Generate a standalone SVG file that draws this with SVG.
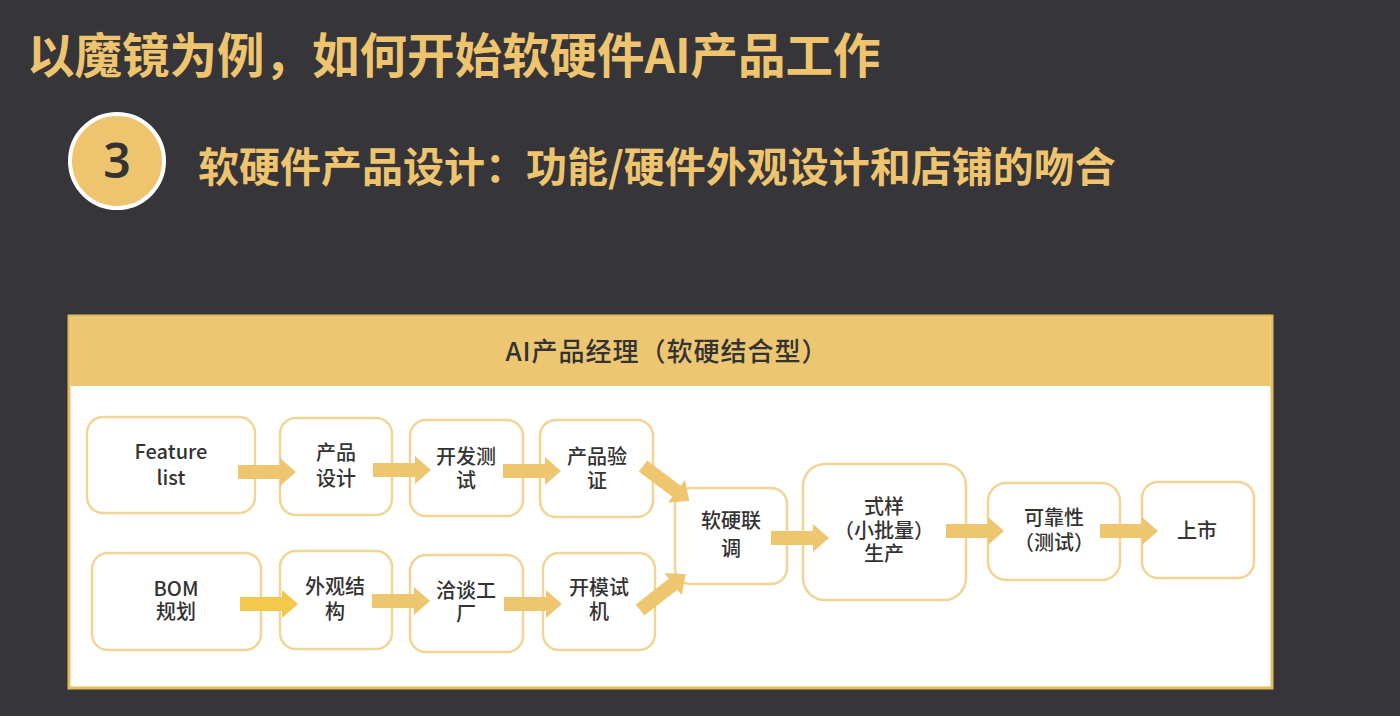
<svg xmlns="http://www.w3.org/2000/svg" xmlns:xlink="http://www.w3.org/1999/xlink" width="1400" height="716" viewBox="0 0 1400 716">
<style>
.gold{fill:#EEC46E;font-family:"Noto Sans CJK SC","Noto Sans",sans-serif;font-weight:bold}
.box{fill:#FFFFFF;stroke:#F1D596;stroke-width:2.5}
.lbl{fill:#333333;font-family:"Noto Sans CJK SC","Noto Sans",sans-serif;font-size:20px;font-weight:500;text-anchor:middle}
.arr{fill:#EEC670}
</style>
<defs>
<path id="arrow" d="M0,-7 H42 V-14 L58,0 L42,14 V7 H0 Z"/>
</defs>
<rect x="0" y="0" width="1400" height="716" fill="#35353A"/>
<g id="title">
<text class="gold" x="27" y="73" font-size="47.5">以魔镜为例，如何开始软硬件AI产品工作</text>
</g>
<g id="step">
<circle cx="117" cy="161" r="47" fill="#EEC46E" stroke="#FFFFFF" stroke-width="4"/>
<text x="117" y="178" font-family="'Noto Sans','Noto Sans CJK SC',sans-serif" font-size="48" font-weight="600" fill="#333333" text-anchor="middle">3</text>
<text class="gold" x="198" y="182" font-size="41">软硬件产品设计：功能/硬件外观设计和店铺的吻合</text>
</g>
<g id="panel">
<rect x="69" y="316" width="1203" height="372" fill="#FFFFFF" stroke="#E3BD59" stroke-width="3"/>
<rect x="70.5" y="317.5" width="1200" height="68.5" fill="#EDC672"/>
<text x="667" y="361" font-family="'Noto Sans CJK SC',sans-serif" font-size="26" font-weight="500" letter-spacing="1" fill="#333333" text-anchor="middle">AI产品经理（软硬结合型）</text>
</g>
<g id="node-feature">
<rect class="box" x="87" y="417" width="168" height="96" rx="16"/>
<text class="lbl" x="171" y="459">Feature<tspan x="171" dy="26">list</tspan></text>
</g>
<g id="node-design">
<rect class="box" x="280" y="418" width="112" height="97" rx="16"/>
<text class="lbl" x="336" y="460">产品<tspan x="336" dy="26">设计</tspan></text>
</g>
<g id="node-devtest">
<rect class="box" x="410" y="420" width="113" height="96" rx="16"/>
<text class="lbl" x="466" y="464">开发测<tspan x="466" dy="24">试</tspan></text>
</g>
<g id="node-verify">
<rect class="box" x="540" y="420" width="113" height="97" rx="16"/>
<text class="lbl" x="597" y="464">产品验<tspan x="597" dy="24">证</tspan></text>
</g>
<g id="node-bom">
<rect class="box" x="92" y="553" width="169" height="97" rx="16"/>
<text class="lbl" x="176" y="596">BOM<tspan x="176" dy="23">规划</tspan></text>
</g>
<g id="node-appearance">
<rect class="box" x="280" y="551" width="112" height="98" rx="16"/>
<text class="lbl" x="335" y="594">外观结<tspan x="335" dy="25">构</tspan></text>
</g>
<g id="node-factory">
<rect class="box" x="410" y="555" width="113" height="97" rx="16"/>
<text class="lbl" x="466" y="598">洽谈工<tspan x="466" dy="23">厂</tspan></text>
</g>
<g id="node-mold">
<rect class="box" x="543" y="553" width="112" height="97" rx="16"/>
<text class="lbl" x="599" y="595">开模试<tspan x="599" dy="24">机</tspan></text>
</g>
<g id="node-integration">
<rect class="box" x="675" y="488" width="112" height="96" rx="16"/>
<text class="lbl" x="731" y="528">软硬联<tspan x="731" dy="28">调</tspan></text>
</g>
<g id="node-pilot">
<rect class="box" x="803" y="464" width="163" height="136" rx="22"/>
<text class="lbl" x="884" y="514">式样<tspan x="884" dy="24">（小批量）</tspan><tspan x="884" dy="23">生产</tspan></text>
</g>
<g id="node-reliability">
<rect class="box" x="988" y="483" width="132" height="97" rx="18"/>
<text class="lbl" x="1054" y="525">可靠性<tspan x="1054" dy="25">（测试）</tspan></text>
</g>
<g id="node-launch">
<rect class="box" x="1142" y="482" width="112" height="96" rx="16"/>
<text class="lbl" x="1197" y="538">上市</text>
</g>
<g id="connectors">
<use xlink:href="#arrow" class="arr" transform="translate(238,472)"/>
<use xlink:href="#arrow" class="arr" transform="translate(373,470)"/>
<use xlink:href="#arrow" class="arr" transform="translate(503,471)"/>
<use xlink:href="#arrow" fill="#F2C94C" transform="translate(240,604)"/>
<use xlink:href="#arrow" class="arr" transform="translate(372,601)"/>
<use xlink:href="#arrow" class="arr" transform="translate(504,604)"/>
<use xlink:href="#arrow" class="arr" transform="translate(643,466) rotate(37)"/>
<use xlink:href="#arrow" class="arr" transform="translate(640,610) rotate(-38)"/>
<use xlink:href="#arrow" class="arr" transform="translate(771,538)"/>
<use xlink:href="#arrow" class="arr" transform="translate(946,531)"/>
<use xlink:href="#arrow" class="arr" transform="translate(1100,531)"/>
</g>
</svg>
